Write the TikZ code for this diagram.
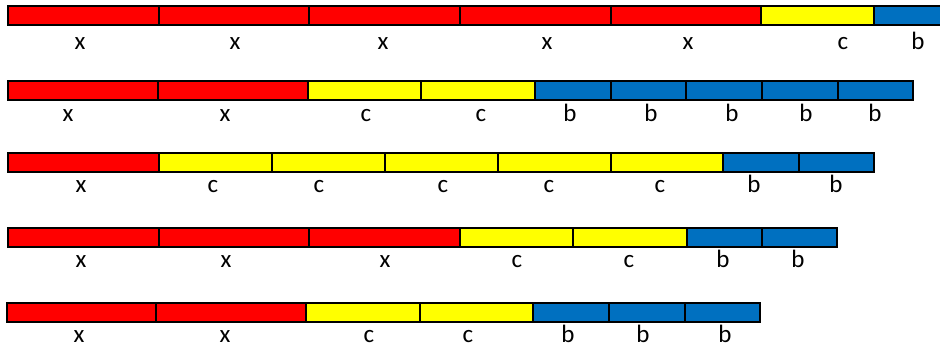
\documentclass[tikz,border=0pt]{standalone}
\usepackage{fontspec}
\setmainfont{Carlito}
\definecolor{segred}{HTML}{FF0000}
\definecolor{segyel}{HTML}{FFFF00}
\definecolor{segblu}{HTML}{0070C0}
\tikzset{
  seg/.style={draw=black, line width=1.5pt},
  lab/.style={anchor=base, inner sep=0pt, text depth=0pt, font=\fontsize{25}{30}\selectfont}
}
\newcommand{\rowbar}[4]{% #1 top, #2 bottom, #3 list of x:color
  \foreach \xa/\xb/\cc in {#3} {\draw[seg, fill=\cc] (\xa,#1) rectangle (\xb,#2);}
}
\begin{document}
\begin{tikzpicture}[x=1pt,y=-1pt]
\useasboundingbox (0,0) rectangle (940,347);
\clip (0,0) rectangle (940,347);
% row 1
\rowbar{6}{25}{8/159/segred,159/309/segred,309/460/segred,460/611/segred,611/761/segred,761/874/segyel,874/950/segblu}{}
\node[lab] (r1a) at (80,50) {x};
\node[lab] (r1b) at (235,50) {x};
\node[lab] (r1c) at (383,50) {x};
\node[lab] (r1d) at (547,50) {x};
\node[lab] (r1e) at (688,50) {x};
\node[lab] (r1f) at (843,50) {c};
\node[lab] (r1g) at (918,50) {b};
% row 2
\rowbar{81}{100}{8/158/segred,158/308/segred,308/421/segyel,421/535/segyel,535/611/segblu,611/686/segblu,686/762/segblu,762/838/segblu,838/913/segblu}{}
\node[lab] (r2a) at (68,122) {x};
\node[lab] (r2b) at (225,122) {x};
\node[lab] (r2c) at (366,122) {c};
\node[lab] (r2d) at (481,122) {c};
\node[lab] (r2e) at (570,122) {b};
\node[lab] (r2f) at (651,122) {b};
\node[lab] (r2g) at (732,122) {b};
\node[lab] (r2h) at (806,122) {b};
\node[lab] (r2i) at (875,122) {b};
% row 3
\rowbar{153}{172}{8/159/segred,159/272/segyel,272/385/segyel,385/498/segyel,498/611/segyel,611/723/segyel,723/799/segblu,799/874/segblu}{}
\node[lab] (r3a) at (81,193) {x};
\node[lab] (r3b) at (213,193) {c};
\node[lab] (r3c) at (319,193) {c};
\node[lab] (r3d) at (443,193) {c};
\node[lab] (r3e) at (549,193) {c};
\node[lab] (r3f) at (660,193) {c};
\node[lab] (r3g) at (754,193) {b};
\node[lab] (r3h) at (836,193) {b};
% row 4
\rowbar{228}{247}{8/159/segred,159/309/segred,309/460/segred,460/573/segyel,573/687/segyel,687/762/segblu,762/837/segblu}{}
\node[lab] (r4a) at (81,268) {x};
\node[lab] (r4b) at (226,268) {x};
\node[lab] (r4c) at (385,268) {x};
\node[lab] (r4d) at (517,268) {c};
\node[lab] (r4e) at (629,268) {c};
\node[lab] (r4f) at (723,268) {b};
\node[lab] (r4g) at (798,268) {b};
% row 5
\rowbar{303}{322}{7/156/segred,156/306/segred,306/420/segyel,420/533/segyel,533/609/segblu,609/685/segblu,685/760/segblu}{}
\node[lab] (r5a) at (79,343) {x};
\node[lab] (r5b) at (225,343) {x};
\node[lab] (r5c) at (369,343) {c};
\node[lab] (r5d) at (468,343) {c};
\node[lab] (r5e) at (568,343) {b};
\node[lab] (r5f) at (643,343) {b};
\node[lab] (r5g) at (725,343) {b};
\end{tikzpicture}
\end{document}
